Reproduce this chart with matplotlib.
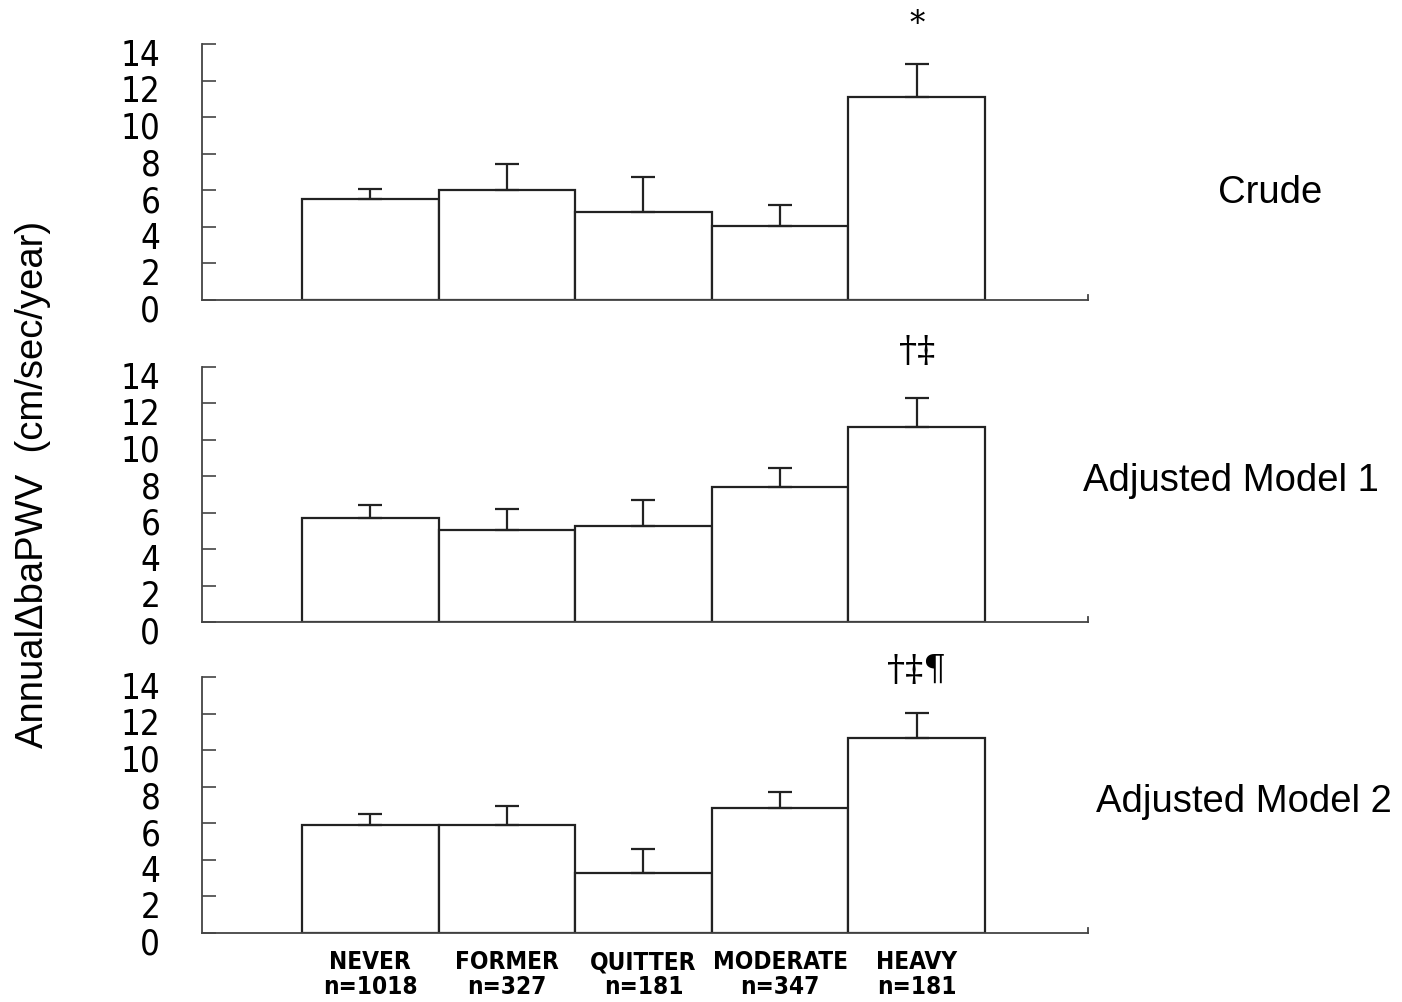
import matplotlib
matplotlib.use("Agg")
import matplotlib.pyplot as plt
import matplotlib.transforms as mtransforms
from matplotlib import font_manager

categories = ["NEVER", "FORMER", "QUITTER", "MODERATE", "HEAVY"]
counts = ["n=1018", "n=327", "n=181", "n=347", "n=181"]
panel_titles = ["Crude", "Adjusted Model 1", "Adjusted Model 2"]
crude_means = [5.5, 6.0, 4.8, 4.05, 11.1]
crude_err = [0.55, 1.45, 1.9, 1.15, 1.8]
model1_means = [5.7, 5.05, 5.27, 7.4, 10.7]
model1_err = [0.7, 1.15, 1.45, 1.05, 1.6]
model2_means = [5.9, 5.9, 3.28, 6.83, 10.66]
model2_err = [0.62, 1.04, 1.3, 0.9, 1.37]
annotations = ["*", "\u2020\u2021", "\u2020\u2021\u00b6"]
yticks = [0, 2, 4, 6, 8, 10, 12, 14]

names = {f.name for f in font_manager.fontManager.ttflist}
regular = "Liberation Sans" if "Liberation Sans" in names else "DejaVu Sans"
narrow_kw = dict(fontfamily="DejaVu Sans", fontstretch="condensed")

fig = plt.figure(figsize=(14.02, 10.02), dpi=100)
W, H = 1402, 1002
left = 202 / W
width = 886 / W
bottoms = [300, 622, 933]
heights = [256, 255, 256]
means_all = [crude_means, model1_means, model2_means]
err_all = [crude_err, model1_err, model2_err]
title_pos = [(1270, 193), (1231, 481), (1244, 802)]
ann_y = [15.05, 14.9, 14.4]
ann_size = [22, 26, 26]

x = list(range(len(categories)))
axes = []
for i in range(3):
    ax = fig.add_axes([left, 1 - bottoms[i] / H, width, heights[i] / H])
    axes.append(ax)
    ax.bar(x, means_all[i], width=1.0, color="white", edgecolor="#222222",
           linewidth=1.6, zorder=2)
    ax.errorbar(x, means_all[i], yerr=[[0] * 5, err_all[i]], fmt="none",
                ecolor="#222222", elinewidth=1.6, capsize=8.5, capthick=1.6,
                zorder=3)
    ax.set_xlim(-1.232, 5.254)
    ax.set_ylim(0, 14)
    ax.set_yticks(yticks)
    ax.set_yticklabels([str(t) for t in yticks], fontsize=25, **narrow_kw)
    ax.tick_params(axis="y", direction="in", length=10, width=1.2,
                   color="#444444", pad=30)
    ax.set_xticks([])
    ax.spines["top"].set_visible(False)
    ax.spines["right"].set_bounds(0, 0.3)
    for s in ["left", "bottom", "right"]:
        ax.spines[s].set_color("#444444")
        ax.spines[s].set_linewidth(1.3)
    offset = mtransforms.ScaledTranslation(0, -6 / 72, fig.dpi_scale_trans)
    for lab in ax.get_yticklabels():
        lab.set_transform(lab.get_transform() + offset)
    ax.text(4, ann_y[i], annotations[i], ha="center", va="center",
            fontsize=ann_size[i], fontfamily=["DejaVu Serif"], clip_on=False)
    tx, ty = title_pos[i]
    fig.text(tx / W, 1 - ty / H, panel_titles[i], ha="center", va="center",
             fontsize=27.5, fontfamily=regular)

ax3 = axes[2]
for xi, (c, n) in enumerate(zip(categories, counts)):
    ax3.text(xi, -0.95, c + "\n" + n, ha="center", va="top", fontsize=17.5,
             fontweight="bold", linespacing=1.05,
             transform=ax3.transData, clip_on=False, **narrow_kw)

fig.text(33 / W, 1 - 484 / H, "Annual\u0394baPWV  (cm/sec/year)", rotation=90,
         ha="center", va="center", fontsize=27.5, fontfamily=regular)

fig.savefig("out.png", dpi=100)
